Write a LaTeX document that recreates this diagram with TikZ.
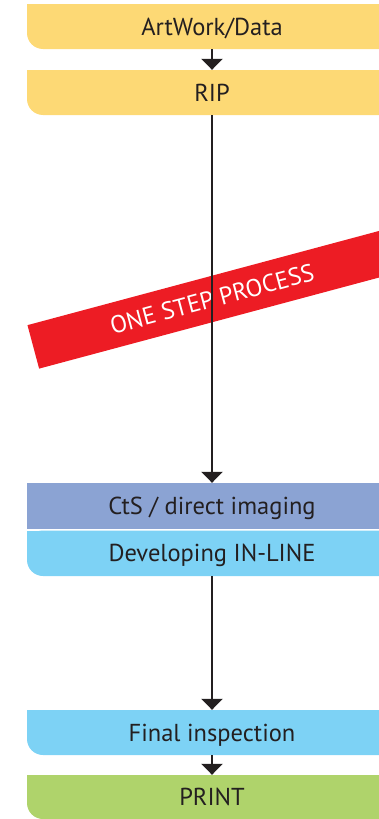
\documentclass[tikz,border=0pt]{standalone}
\usepackage{fontspec}
\setmainfont{PT Sans}
\usetikzlibrary{arrows.meta}
\definecolor{ink}{RGB}{35,31,32}
\definecolor{boxyellow}{RGB}{253,217,117}
\definecolor{boxviolet}{RGB}{139,163,211}
\definecolor{boxblue}{RGB}{125,210,245}
\definecolor{boxgreen}{RGB}{175,211,107}
\definecolor{bandred}{RGB}{237,28,36}
\begin{document}
\begin{tikzpicture}[x=1pt,y=1pt,
  box/.style={minimum width=370pt, minimum height=45pt, inner sep=0pt,
    text height=17pt, text depth=0pt, text=ink,
    font=\fontsize{24.5}{24.5}\selectfont,
    path picture={
      \fill[#1, rounded corners=16pt] (path picture bounding box.south west) rectangle (path picture bounding box.north east);
      \fill[#1] ([xshift=20pt]path picture bounding box.south west) rectangle (path picture bounding box.north east);
      \fill[#1] ([yshift=20pt]path picture bounding box.south west) rectangle (path picture bounding box.north east);
    }},
  squarebox/.style={minimum width=370pt, minimum height=46pt, inner sep=0pt,
    text height=17pt, text depth=0pt, text=ink, fill=#1,
    font=\fontsize{24.5}{24.5}\selectfont},
  band/.style={fill=bandred, rotate=15, minimum width=370pt, minimum height=45pt,
    inner sep=0pt, text height=17pt, text depth=0pt, text=white,
    font=\fontsize{24.5}{24.5}\selectfont},
  flow/.style={draw=ink, line width=2.2pt, -{Triangle[width=21pt,length=11pt]}}
]
\useasboundingbox (0,0) rectangle (379,-819);
\clip (0,0) rectangle (379,-819);

\node[band] (osp) at (212,-299) {ONE STEP PROCESS};

\node[box=boxyellow] (art) at (212,-26.5) {ArtWork/Data};
\node[box=boxyellow] (rip) at (212,-92.5) {RIP};
\node[squarebox=boxviolet] (cts) at (212,-506) {CtS / direct imaging};
\node[box=boxblue, minimum height=45.5pt] (dev) at (212,-553.25) {Developing IN-LINE};
\node[box=boxblue] (fin) at (212,-732.5) {Final inspection};
\node[box=boxgreen, minimum height=44pt] (prt) at (212,-797) {PRINT};

\draw[flow] (art.south) -- (rip.north);
\draw[flow] (rip.south) -- (cts.north);
\draw[flow] (dev.south) -- (fin.north);
\draw[flow] (fin.south) -- (prt.north);
\end{tikzpicture}
\end{document}
